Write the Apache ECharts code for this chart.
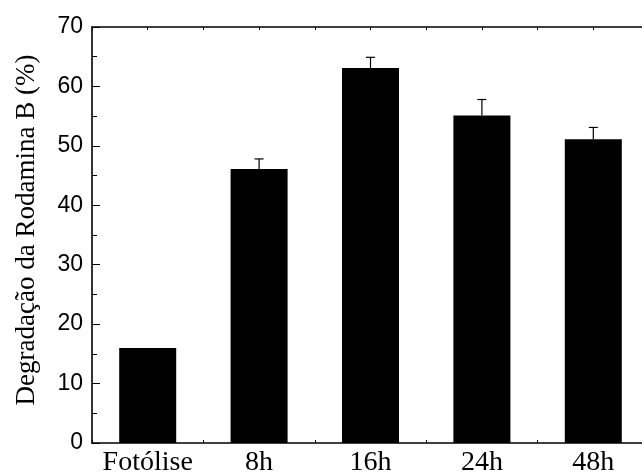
<!DOCTYPE html>
<html>
<head>
<meta charset="utf-8">
<script src="https://cdn.jsdelivr.net/npm/echarts@6/dist/echarts.min.js"></script>
<style>
html,body{margin:0;padding:0;background:#fff;}
#chart{width:642px;height:473px;}
</style>
</head>
<body>
<div id="chart"></div>
<script>
var categories = ['Fotólise', '8h', '16h', '24h', '48h'];
var values = [16.0, 46.1, 63.1, 55.1, 51.1];
var errors = [0, 1.7, 1.8, 2.7, 2.0];
var yTitle = 'Degradação da Rodamina B (%)';

var chart = echarts.init(document.getElementById('chart'));
var serif = '"Liberation Serif", "Times New Roman", serif';
var sans = '"Liberation Sans", Arial, sans-serif';

function catAxis(pos, showLabel, align, showLine) {
  return {
    type: 'category',
    data: categories,
    position: pos,
    axisLine: {show: showLine, lineStyle: {color: '#000', width: 1.6}},
    axisTick: {show: true, inside: true, alignWithLabel: align, interval: 0, length: 3, lineStyle: {color: '#000', width: 1}},
    axisLabel: {show: showLabel, interval: 0, color: '#000', fontFamily: serif, fontSize: 28, margin: 6},
    splitLine: {show: false}
  };
}

chart.setOption({
  animation: false,
  backgroundColor: '#fff',
  grid: {left: 92, top: 27, width: 557, height: 416, containLabel: false, outerBoundsMode: 'none'},
  xAxis: [
    catAxis('bottom', true, false, true),
    catAxis('bottom', false, true, false),
    catAxis('top', false, false, true),
    catAxis('top', false, true, false)
  ],
  yAxis: {
    type: 'value',
    min: 0, max: 70, interval: 10,
    axisLine: {show: true, lineStyle: {color: '#000', width: 1.6}},
    axisTick: {show: true, inside: true, length: 8, lineStyle: {color: '#000', width: 1}},
    minorTick: {show: true, splitNumber: 2, length: 5, lineStyle: {color: '#000', width: 1}},
    axisLabel: {color: '#000', fontFamily: sans, fontSize: 23, margin: 9},
    splitLine: {show: false}
  },
  graphic: [{
    type: 'text',
    x: 27, y: 230,
    rotation: Math.PI / 2,
    style: {text: yTitle, font: '27px ' + serif, fill: '#000', align: 'center', verticalAlign: 'middle'}
  }],
  series: [
    {
      type: 'bar',
      data: values,
      barWidth: 57,
      itemStyle: {color: '#000'},
      xAxisIndex: 0, yAxisIndex: 0
    },
    {
      type: 'custom',
      xAxisIndex: 0, yAxisIndex: 0,
      data: values.map(function (v, i) { return [i, v, v + errors[i]]; }),
      renderItem: function (params, api) {
        var lo = api.coord([api.value(0), api.value(1)]);
        var hi = api.coord([api.value(0), api.value(2)]);
        if (api.value(2) - api.value(1) <= 0) return null;
        var hw = 4.5;
        return {
          type: 'group',
          children: [
            {type: 'line', shape: {x1: lo[0], y1: lo[1], x2: hi[0], y2: hi[1]}, style: {stroke: '#000', lineWidth: 1.2}},
            {type: 'line', shape: {x1: hi[0] - hw, y1: hi[1], x2: hi[0] + hw, y2: hi[1]}, style: {stroke: '#000', lineWidth: 1.2}}
          ]
        };
      },
      z: 3
    }
  ]
});
</script>
</body>
</html>
